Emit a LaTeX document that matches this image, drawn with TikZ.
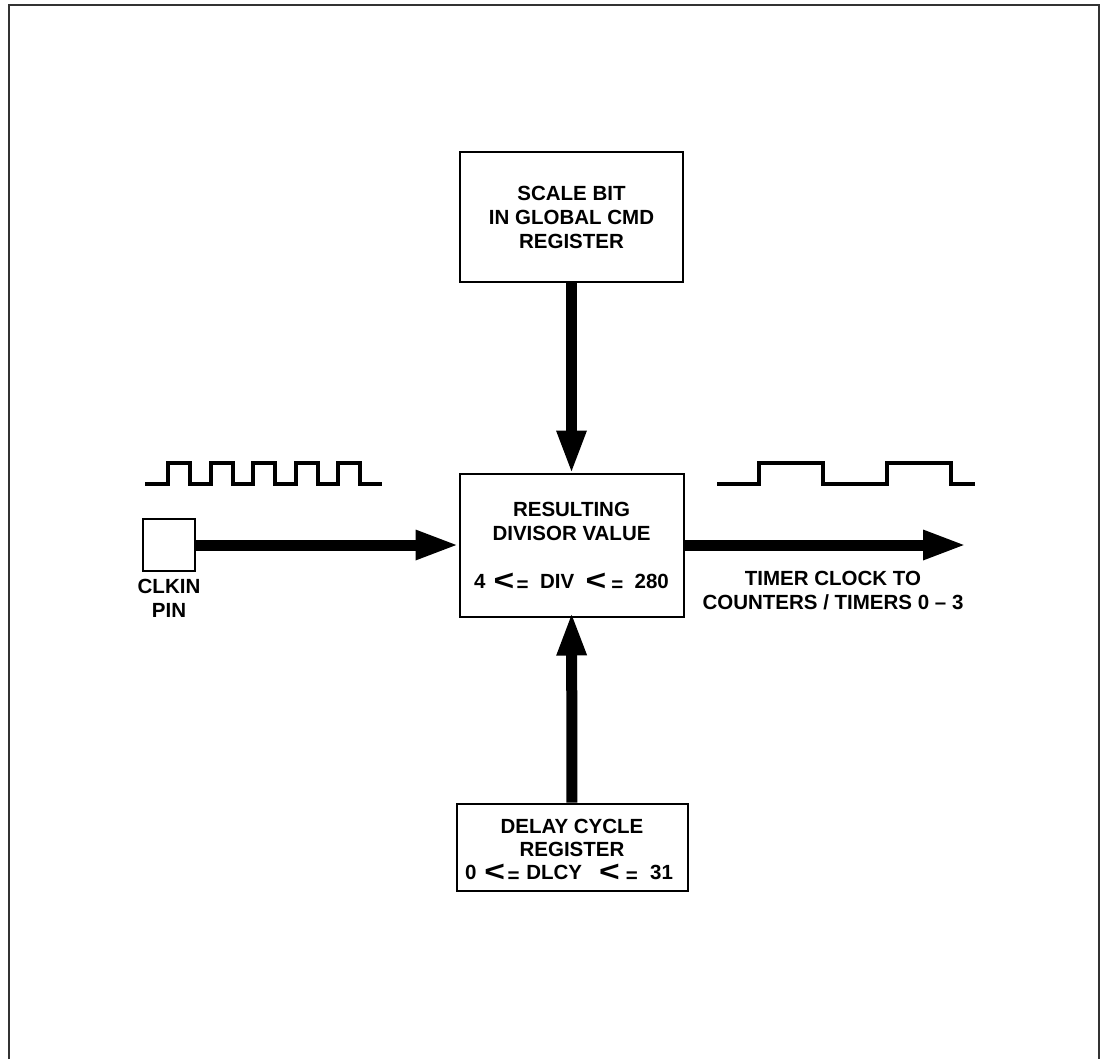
\documentclass[tikz,border=0pt]{standalone}
\usepackage{fontspec}
\setmainfont{Liberation Sans}
\usetikzlibrary{arrows.meta, positioning}

\newcommand{\figfont}{\fontsize{20.5}{24}\selectfont\bfseries}
\newcommand{\lteq}[1][2.5pt]{\smash{\raisebox{-2.5pt}{\scalebox{1.22}[1]{\fontsize{29}{24}\selectfont<}}\hspace{#1}\raisebox{-3pt}{=}}}

\tikzset{
  regbox/.style={draw, line width=2pt, align=center, font=\figfont, inner sep=0pt},
  bigarrow/.style={line width=11pt, -{Triangle[length=44pt, width=27pt]}},
  wave/.style={line width=4pt, line join=miter},
  lbl/.style={align=center, font=\figfont, inner sep=0pt},
}

\begin{document}
\begin{tikzpicture}[x=1pt, y=-1pt]
\useasboundingbox (0,0) rectangle (1107,1059);
% page frame, runs off the bottom
\draw[line width=2pt, black!80] (9,1059) -- (9,5) -- (1099,5) -- (1099,1059);
% register boxes
\node[regbox, minimum width=223pt, minimum height=130pt] (scale) at (571.5,217) {SCALE BIT\\IN GLOBAL CMD\\REGISTER};
\node[regbox, minimum width=224pt, minimum height=143pt] (divisor) at (571.5,545)
  {RESULTING\\DIVISOR VALUE\\[24pt]4\hspace{8pt}\lteq\ \ DIV\ \ \lteq[5pt]\ \ 280};
\node[regbox, minimum width=231pt, minimum height=87pt, font=\fontsize{20.5}{23}\selectfont\bfseries] (delay) at (572,847)
  {\rule{0pt}{18.7pt}DELAY CYCLE\\REGISTER\\\hspace{-6pt}0\hspace{8pt}\lteq\ \hspace{1pt}DLCY\ \ \ \lteq[6pt]\hspace{1pt}\ \ 31};
% clock input pin
\node[draw, line width=2pt, minimum size=52pt, inner sep=0pt] (clkin) at (169,545) {};
\node[lbl, below=7pt of clkin] (clkinlbl) {CLKIN\\PIN};
\coordinate (tmrout) at (963,545);
\node[lbl] (tmrlbl) at (833,591) {TIMER CLOCK TO\\COUNTERS / TIMERS 0 -- 3};
% fat arrows
\draw[bigarrow, shorten >=-2pt] (scale) -- (divisor);
\draw[bigarrow, shorten >=-1pt] (clkin) -- (divisor);
\draw[bigarrow, shorten >=-6pt] (delay) -- (divisor);
\draw[bigarrow, shorten >=-4pt] (divisor) -- (tmrout);
% input clock: five short pulses
\draw[wave] (145,484) -- (168,484)
  \foreach \k in {0,...,4} { -- ++(0,-21) -- ++(22,0) -- ++(0,21) -- ++(20.5,0) }
  -- (382,484);
% divided clock
\draw[wave] (717,484) -- (759,484) -- (759,463) -- (823,463) -- (823,484) -- (887,484)
  -- (887,463) -- (951,463) -- (951,484) -- (975,484);
\end{tikzpicture}
\end{document}
